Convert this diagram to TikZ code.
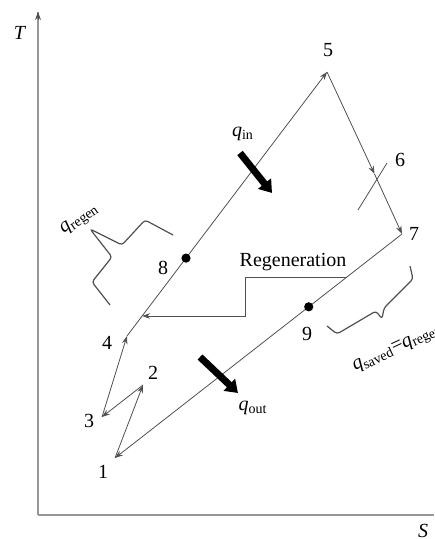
\documentclass[tikz,border=0pt]{standalone}
\usepackage{fontspec}
\setmainfont{Liberation Serif}
\usetikzlibrary{arrows.meta, calc}
\definecolor{cinza}{RGB}{150,150,150}
\definecolor{linha}{RGB}{80,80,80}

\begin{document}
\begin{tikzpicture}[
    x=0.5pt,
    y=-0.5pt,
    eixo/.style={
        draw=cinza,
        line width=1pt
    },
    seta/.style={
        -{Stealth[length=4pt, width=2.8pt]},
        draw=linha,
        line width=0.4pt
    },
    setaGrossa/.style={
        -{Triangle[length=6pt, width=8pt]},
        line width=3.5pt
    },
    ponto/.style={
        circle,
        fill=black,
        inner sep=0pt,
        minimum size=4.6pt
    },
    chave/.style={
        draw=linha,
        line width=0.6pt,
        rounded corners=1.5pt
    },
    rotulo/.style={
        font=\normalsize,
        inner sep=1pt
    }
]

\useasboundingbox (0,0) rectangle (434,539);

\coordinate (origem) at (38,515);
\coordinate (topoT) at (38,12);
\coordinate (fimS) at (434,515);

\draw[eixo] (origem) -- (fimS);
\draw[eixo] (origem) -- (topoT);
\draw[-{Stealth[length=4pt, width=3pt]}, linha, line width=0.4pt]
    ($(topoT)+(0,8)$) -- (topoT);

\node[rotulo] (eixoT) at (20,33) {\textit{T}};
\node[rotulo] (eixoS) at (423,531) {\textit{S}};

\coordinate (p1) at (115,458);
\coordinate (p2) at (143,385);
\coordinate (p3) at (102,417);
\coordinate (p4) at (127,336);
\coordinate (p5) at (327,72);
\coordinate (p6) at (374.5,174);
\coordinate (p7) at (402,234);

\draw[seta] (p1) -- (p2);
\draw[seta] (p2) -- (p3);
\draw[seta] (p3) -- (p4);
\draw[seta] (p4) -- (p5);
\draw[seta] (p5) -- (p6);
\draw[seta] (p6) -- (p7);
\draw[seta] (p7) -- (p1);

\coordinate (marcaA) at (358,210);
\coordinate (marcaB) at (387,163);
\draw[linha, line width=0.4pt] (marcaA) -- (marcaB);

\node[ponto] (p8) at ($(p4)!0.295!(p5)$) {};
\node[ponto] (p9) at ($(p7)!0.325!(p1)$) {};

\node[rotulo] (n1) at (103,472) {1};
\node[rotulo] (n2) at (153,373) {2};
\node[rotulo] (n3) at (89,421) {3};
\node[rotulo] (n4) at (107,343) {4};
\node[rotulo] (n5) at (328,50) {5};
\node[rotulo] (n6) at (400,160) {6};
\node[rotulo] (n7) at (414,234) {7};
\node[rotulo] (n8) at (163,268) {8};
\node[rotulo] (n9) at (307,334) {9};

\coordinate (r1) at ($(p7)!0.192!(p1)$);
\coordinate (r2) at ($(p4)!0.0758!(p5)$);
\draw[seta] (r1) -| ($(r2)+(103,0)$) -- (r2);
\node[rotulo] (regen) at (293,262) {Regeneration};

\coordinate (qinA) at (240,153);
\coordinate (qinB) at (272,193);
\draw[setaGrossa] (qinA) -- (qinB);
\node[rotulo] (qin) at (243,134) {\textit{q}\textsubscript{in}};

\coordinate (qoutA) at (200,357);
\coordinate (qoutB) at (238,393);
\draw[setaGrossa] (qoutA) -- (qoutB);
\node[rotulo] (qout) at (253,408) {\textit{q}\textsubscript{out}};

\draw[chave] (173,235) -- (145,220) -- (122,245) -- (90,229)
    -- (112,257) -- (92,282) -- (110,305);
\node[rotulo, rotate=35] (qregen) at (80,220) {\textit{q}\textsubscript{regen}};

\draw[chave] (327,326) -- (337,334) -- (376,311) -- (382,319)
    -- (384,308) -- (413,279) -- (410,266);
\node[rotulo, rotate=25, anchor=base west] (qsaved) at (353,372)
    {\textit{q}\textsubscript{saved}=\textit{q}\textsubscript{regen}};

\end{tikzpicture}
\end{document}
